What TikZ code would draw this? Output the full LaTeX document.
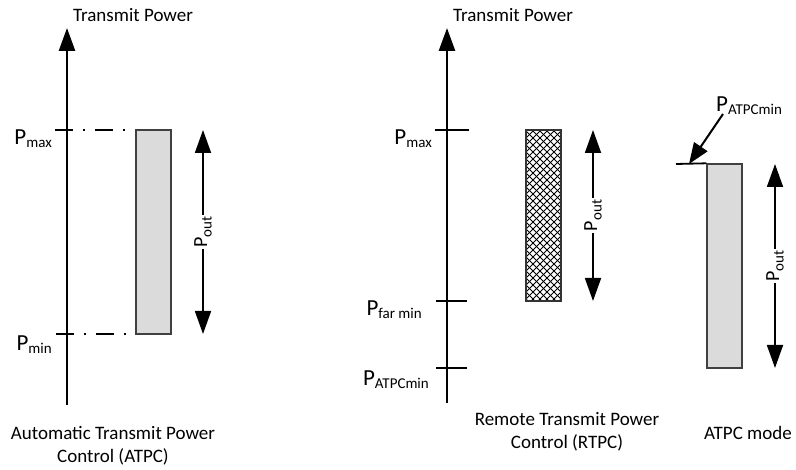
\documentclass[tikz,border=0pt]{standalone}
\usepackage{fontspec}
\setmainfont{Carlito}
\usetikzlibrary{arrows.meta}
\newcommand\psub[1]{\raisebox{-0.45ex}{\fontsize{15}{15}\selectfont #1}}
\newcommand\plab[1]{{\fontsize{23}{23}\selectfont P}\psub{#1}}
\tikzset{
  axis/.style={line width=2.6pt,-{Triangle[length=23pt,width=16pt]}},
  tick/.style={line width=2.4pt},
  dashdot/.style={line width=2pt,dash pattern=on 18pt off 10pt on 2pt off 10pt},
  dbl/.style={line width=1.8pt,{Triangle[length=23pt,width=16pt]}-{Triangle[length=23pt,width=16pt]}},
  ptr/.style={line width=2pt,-{Triangle[length=21pt,width=16pt]}},
  graybar/.style={draw=black!75,line width=1.4pt,fill=black!14,inner sep=0pt},
  hatchbar/.style={draw=black!80,line width=1.4pt,inner sep=0pt},
  txt/.style={font=\fontsize{19}{23}\selectfont,inner sep=0pt},
  lab/.style={inner sep=0pt,anchor=base east},
  poutlab/.style={midway,rotate=90,fill=white,inner sep=1.5pt,font=\fontsize{20}{20}\selectfont},
}
\begin{document}
\begin{tikzpicture}[x=1pt,y=-1pt]
\useasboundingbox (0,0) rectangle (796,470);
% ---------- left: ATPC ----------
\node[txt] (t1) at (133,15) {Transmit Power};
\coordinate (Lbot) at (67,405);
\coordinate (Ltop) at (67,28);
\draw[axis] (Lbot) -- (Ltop);
\coordinate (Lmax0) at (55,130); \coordinate (Lmax1) at (128,130);
\coordinate (Lmin0) at (56,334); \coordinate (Lmin1) at (129,334);
\draw[dashdot] (Lmax0) -- (Lmax1);
\draw[dashdot] (Lmin0) -- (Lmin1);
\node[lab] (Lpmax) at (52,145) {\plab{max}};
\node[lab] (Lpmin) at (52,351) {\plab{min}};
\node[graybar,minimum width=35pt,minimum height=204pt] (Lbar) at (153.5,232) {};
\coordinate (La1) at (203,130); \coordinate (La2) at (203,334);
\draw[dbl] (La2) -- node[poutlab] (Lpout) {P\psub{out}} (La1);
\node[txt,align=center] (c1) at (113,446) {Automatic Transmit Power\\Control (ATPC)};
% ---------- middle: RTPC ----------
\node[txt] (t2) at (513,15) {Transmit Power};
\coordinate (Mbot) at (447,403);
\coordinate (Mtop) at (447,28);
\draw[axis] (Mbot) -- (Mtop);
\coordinate (Mt1a) at (435,130); \coordinate (Mt1b) at (469,130);
\coordinate (Mt2a) at (436,301); \coordinate (Mt2b) at (467,301);
\coordinate (Mt3a) at (436,368); \coordinate (Mt3b) at (467,368);
\draw[tick] (Mt1a) -- (Mt1b);
\draw[tick] (Mt2a) -- (Mt2b);
\draw[tick] (Mt3a) -- (Mt3b);
\node[lab] (Mpmax) at (432,145) {\plab{max}};
\node[lab] (Mpfar) at (422,316) {\plab{far min}};
\node[lab] (Mpatpc) at (429,386) {\plab{ATPCmin}};
\begin{scope}
  \clip (526,130) rectangle (561,301);
  \foreach \c in {-400,-393,...,200}{
    \draw[line width=0.8pt] (526+\c,130) -- ++(180,180);
    \draw[line width=0.8pt] (561-\c,130) -- ++(-180,180);
  }
\end{scope}
\node[hatchbar,minimum width=35pt,minimum height=171pt] (Mbar) at (543.5,215.5) {};
\coordinate (Ma1) at (593,130); \coordinate (Ma2) at (593,301);
\draw[dbl] (Ma2) -- node[poutlab] (Mpout) {P\psub{out}} (Ma1);
\node[txt,align=center] (c2) at (567,432) {Remote Transmit Power\\Control (RTPC)};
% ---------- right: ATPC mode ----------
\node[graybar,minimum width=35pt,minimum height=204pt] (Rbar) at (724.5,266) {};
\coordinate (Rl0) at (676,164);
\draw[line width=1.8pt] (Rl0) -- (Rbar.north west);
\node[lab,anchor=base west] (Rpatpc) at (716,112) {\plab{ATPCmin}};
\coordinate (Rs) at (723,114);
\coordinate (Rtip) at (689,164);
\draw[ptr] (Rs) -- (Rtip);
\coordinate (Ra1) at (775,164); \coordinate (Ra2) at (775,368);
\draw[dbl] (Ra2) -- node[poutlab] (Rpout) {P\psub{out}} (Ra1);
\node[txt] (c3) at (748,433) {ATPC mode};
\end{tikzpicture}
\end{document}
